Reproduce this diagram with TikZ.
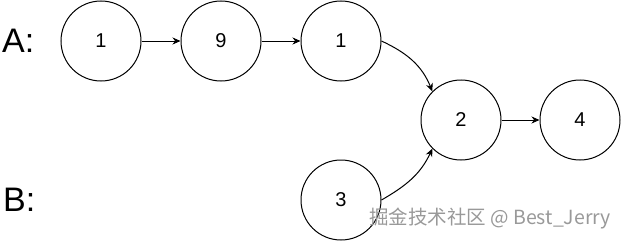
\documentclass[tikz,border=0pt]{standalone}
\usepackage{fontspec}
\setmainfont{Liberation Sans}
\newfontfamily\cjk{Noto Sans CJK SC}
\usetikzlibrary{arrows.meta}
\begin{document}
\begin{tikzpicture}[x=1pt,y=-1pt,
  listnode/.style={draw,circle,line width=1pt,minimum size=80pt,inner sep=0pt,font=\fontsize{20}{24}\selectfont},
  link/.style={line width=1pt,-{Stealth[length=8pt,width=7pt]}},
  lbl/.style={font=\fontsize{34}{40}\selectfont,anchor=west,inner sep=0pt}]
\useasboundingbox (0,0) rectangle (622,241);
\node[listnode] (a1) at (101,41) {1};
\node[listnode] (a9) at (221,41) {9};
\node[listnode] (a3) at (341,41) {1};
\node[listnode] (c2) at (461,120) {2};
\node[listnode] (c4) at (580,120) {4};
\node[listnode] (b3) at (341,200) {3};
\node[lbl] (la) at (2,41) {A:};
\node[lbl] (lb) at (3,200) {B:};
\draw[link] (a1) -- (a9);
\draw[link] (a9) -- (a3);
\draw[link] (c2) -- (c4);
\draw[link] (a3.east) to[out=-25,in=112] (c2.135);
\draw[link] (b3.east) to[out=30,in=-115] (c2.225);
\node[font=\cjk\fontsize{19.5}{22}\selectfont,text=black!40,anchor=west,inner sep=0pt] (wm) at (369,219) {掘金技术社区 @ Best\_Jerry};
\end{tikzpicture}
\end{document}
